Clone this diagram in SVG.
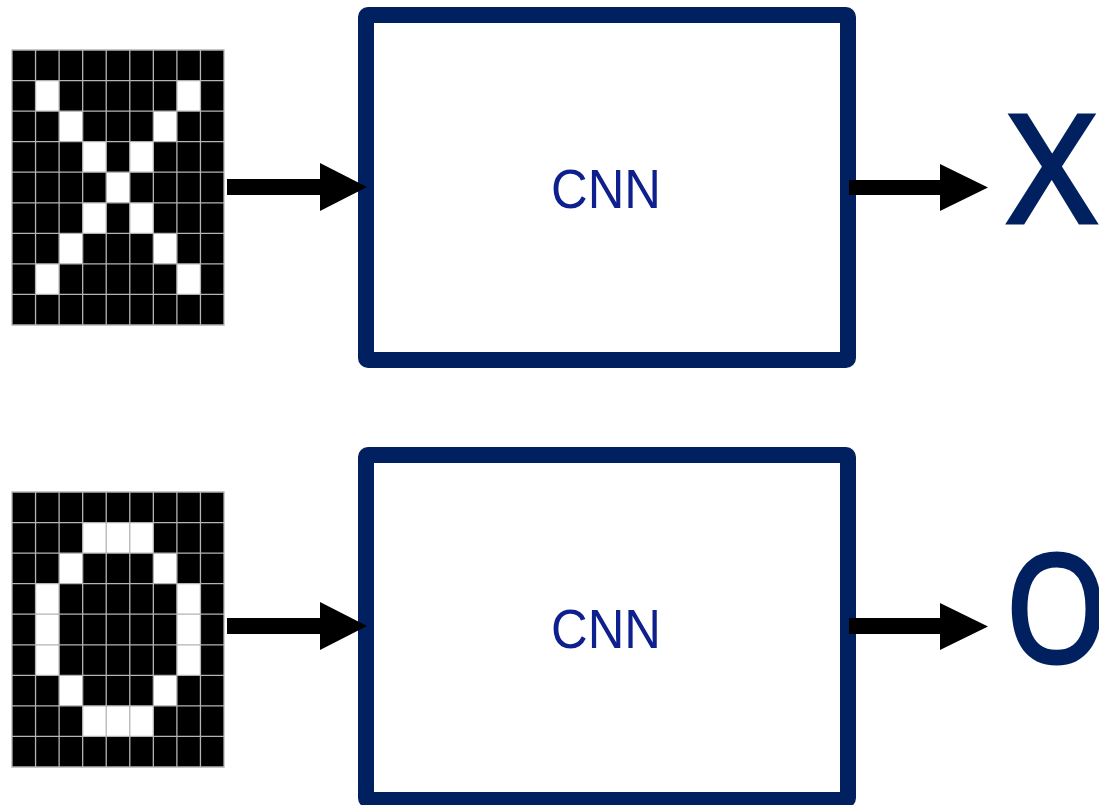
<svg xmlns="http://www.w3.org/2000/svg" width="1099" height="805" viewBox="0 0 1099 805">
<style>
.bg{fill:#000}
.on{fill:#fff}
.grid{fill:none;stroke:#b4b4b4;stroke-width:1.3}
.box{fill:#fff;stroke:#00205F;stroke-width:16;stroke-linejoin:round}
.lbl{font-family:"Liberation Sans",Arial,sans-serif;font-size:56px;fill:#0E1F8E;text-anchor:middle}
.out{font-family:"Open Sans","Liberation Sans",sans-serif;font-size:148px;font-weight:400;fill:#00205F;stroke:#00205F;stroke-width:5}
.arr{fill:#000}
</style>
<defs>
<path id="gridlines" class="grid" vector-effect="non-scaling-stroke" d="M0 0H9V9H0Z M1 0V9 M2 0V9 M3 0V9 M4 0V9 M5 0V9 M6 0V9 M7 0V9 M8 0V9 M0 1H9 M0 2H9 M0 3H9 M0 4H9 M0 5H9 M0 6H9 M0 7H9 M0 8H9"/>
</defs>
<rect width="1099" height="805" fill="#fff"/>
<g id="input-x" transform="translate(12,50) scale(23.556,30.556)">
<rect class="bg" width="9" height="9"/>
<rect class="on" x="1" y="1" width="1" height="1"/><rect class="on" x="7" y="1" width="1" height="1"/>
<rect class="on" x="2" y="2" width="1" height="1"/><rect class="on" x="6" y="2" width="1" height="1"/>
<rect class="on" x="3" y="3" width="1" height="1"/><rect class="on" x="5" y="3" width="1" height="1"/>
<rect class="on" x="4" y="4" width="1" height="1"/>
<rect class="on" x="3" y="5" width="1" height="1"/><rect class="on" x="5" y="5" width="1" height="1"/>
<rect class="on" x="2" y="6" width="1" height="1"/><rect class="on" x="6" y="6" width="1" height="1"/>
<rect class="on" x="1" y="7" width="1" height="1"/><rect class="on" x="7" y="7" width="1" height="1"/>
<use href="#gridlines"/>
</g>
<g id="input-o" transform="translate(12,492) scale(23.556,30.556)">
<rect class="bg" width="9" height="9"/>
<rect class="on" x="3" y="1" width="3" height="1"/>
<rect class="on" x="2" y="2" width="1" height="1"/><rect class="on" x="6" y="2" width="1" height="1"/>
<rect class="on" x="1" y="3" width="1" height="3"/><rect class="on" x="7" y="3" width="1" height="3"/>
<rect class="on" x="2" y="6" width="1" height="1"/><rect class="on" x="6" y="6" width="1" height="1"/>
<rect class="on" x="3" y="7" width="3" height="1"/>
<use href="#gridlines"/>
</g>
<g id="cnn-1">
<rect class="box" x="366" y="15" width="482" height="345" rx="2"/>
<text class="lbl" x="606" y="208" textLength="110" lengthAdjust="spacingAndGlyphs">CNN</text>
</g>
<g id="cnn-2">
<rect class="box" x="366" y="455" width="482" height="345" rx="2"/>
<text class="lbl" x="606" y="648" textLength="110" lengthAdjust="spacingAndGlyphs">CNN</text>
</g>
<g id="output-x">
<text class="out" x="1052" y="222" text-anchor="middle">X</text>
</g>
<g id="output-o">
<text class="out" x="1006" y="662" textLength="101" lengthAdjust="spacingAndGlyphs">O</text>
</g>
<g id="connectors">
<path class="arr" d="M227 179H320V163L367 187L320 211V195H227Z"/>
<path class="arr" d="M849 180H940V164L988 187.5L940 211V195H849Z"/>
<path class="arr" d="M227 618H320V602L367 626L320 650V634H227Z"/>
<path class="arr" d="M849 618H940V603L988 626.5L940 650V634H849Z"/>
</g>
</svg>
